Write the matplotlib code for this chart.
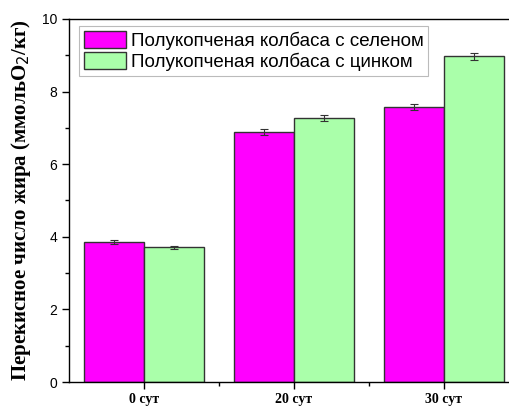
import matplotlib
matplotlib.use("Agg")
import matplotlib.pyplot as plt
import numpy as np

categories = ["0 сут", "20 сут", "30 сут"]
selenium = [3.85, 6.88, 7.57]
selenium_err = [0.05, 0.08, 0.09]
zinc = [3.71, 7.28, 8.97]
zinc_err = [0.05, 0.08, 0.10]
labels = ["Полукопченая колбаса с селеном", "Полукопченая колбаса с цинком"]

x = np.arange(len(categories))
width = 0.4

fig = plt.figure(figsize=(5.1, 4.07), dpi=100)
ax = fig.add_axes([69 / 510, 25 / 407, 1 - 69 / 510, 363 / 407])

err_kw = dict(ecolor="#333333", elinewidth=0.8, capsize=3, capthick=0.8)
ax.bar(x - width / 2, selenium, width, yerr=selenium_err, color="#ff00ff",
       edgecolor="#333333", linewidth=1, label=labels[0], error_kw=err_kw)
ax.bar(x + width / 2, zinc, width, yerr=zinc_err, color="#aaffaa",
       edgecolor="#333333", linewidth=1, label=labels[1], error_kw=err_kw)

ax.set_xlim(-0.5, 2.44)
ax.set_ylim(0, 10)
ax.set_xticks(x)
ax.set_xticks(x[:-1] + 0.5, minor=True)
ax.set_xticklabels(categories, fontfamily="Liberation Serif", fontweight="bold", fontsize=10)
ax.set_yticks([0, 2, 4, 6, 8, 10])
ax.set_yticks([1, 3, 5, 7, 9], minor=True)
for lab in ax.get_yticklabels():
    lab.set_fontfamily("Liberation Sans")
    lab.set_fontsize(10)
ax.tick_params(direction="out", length=5, width=1)
ax.tick_params(which="minor", direction="out", length=3, width=1)
ax.tick_params(axis="x", pad=3)
ax.spines["right"].set_visible(False)
for s in ["left", "top", "bottom"]:
    ax.spines[s].set_linewidth(1)

ax.set_ylabel("Перекисное число жира (ммольO$_2$/кг)", fontfamily="Liberation Serif",
              fontweight="bold", fontsize=15, labelpad=6)

leg = ax.legend(loc="upper left", bbox_to_anchor=(10 / 441, 1 - 7 / 363), fancybox=False,
                edgecolor="#bbbbbb", framealpha=1, prop={"family": "Liberation Sans", "size": 13.5},
                handlelength=2.25, handleheight=1.05, handletextpad=0.25, borderpad=0.25,
                labelspacing=0.12, borderaxespad=0)
leg.get_frame().set_linewidth(0.8)

fig.savefig("out.png", dpi=100)
